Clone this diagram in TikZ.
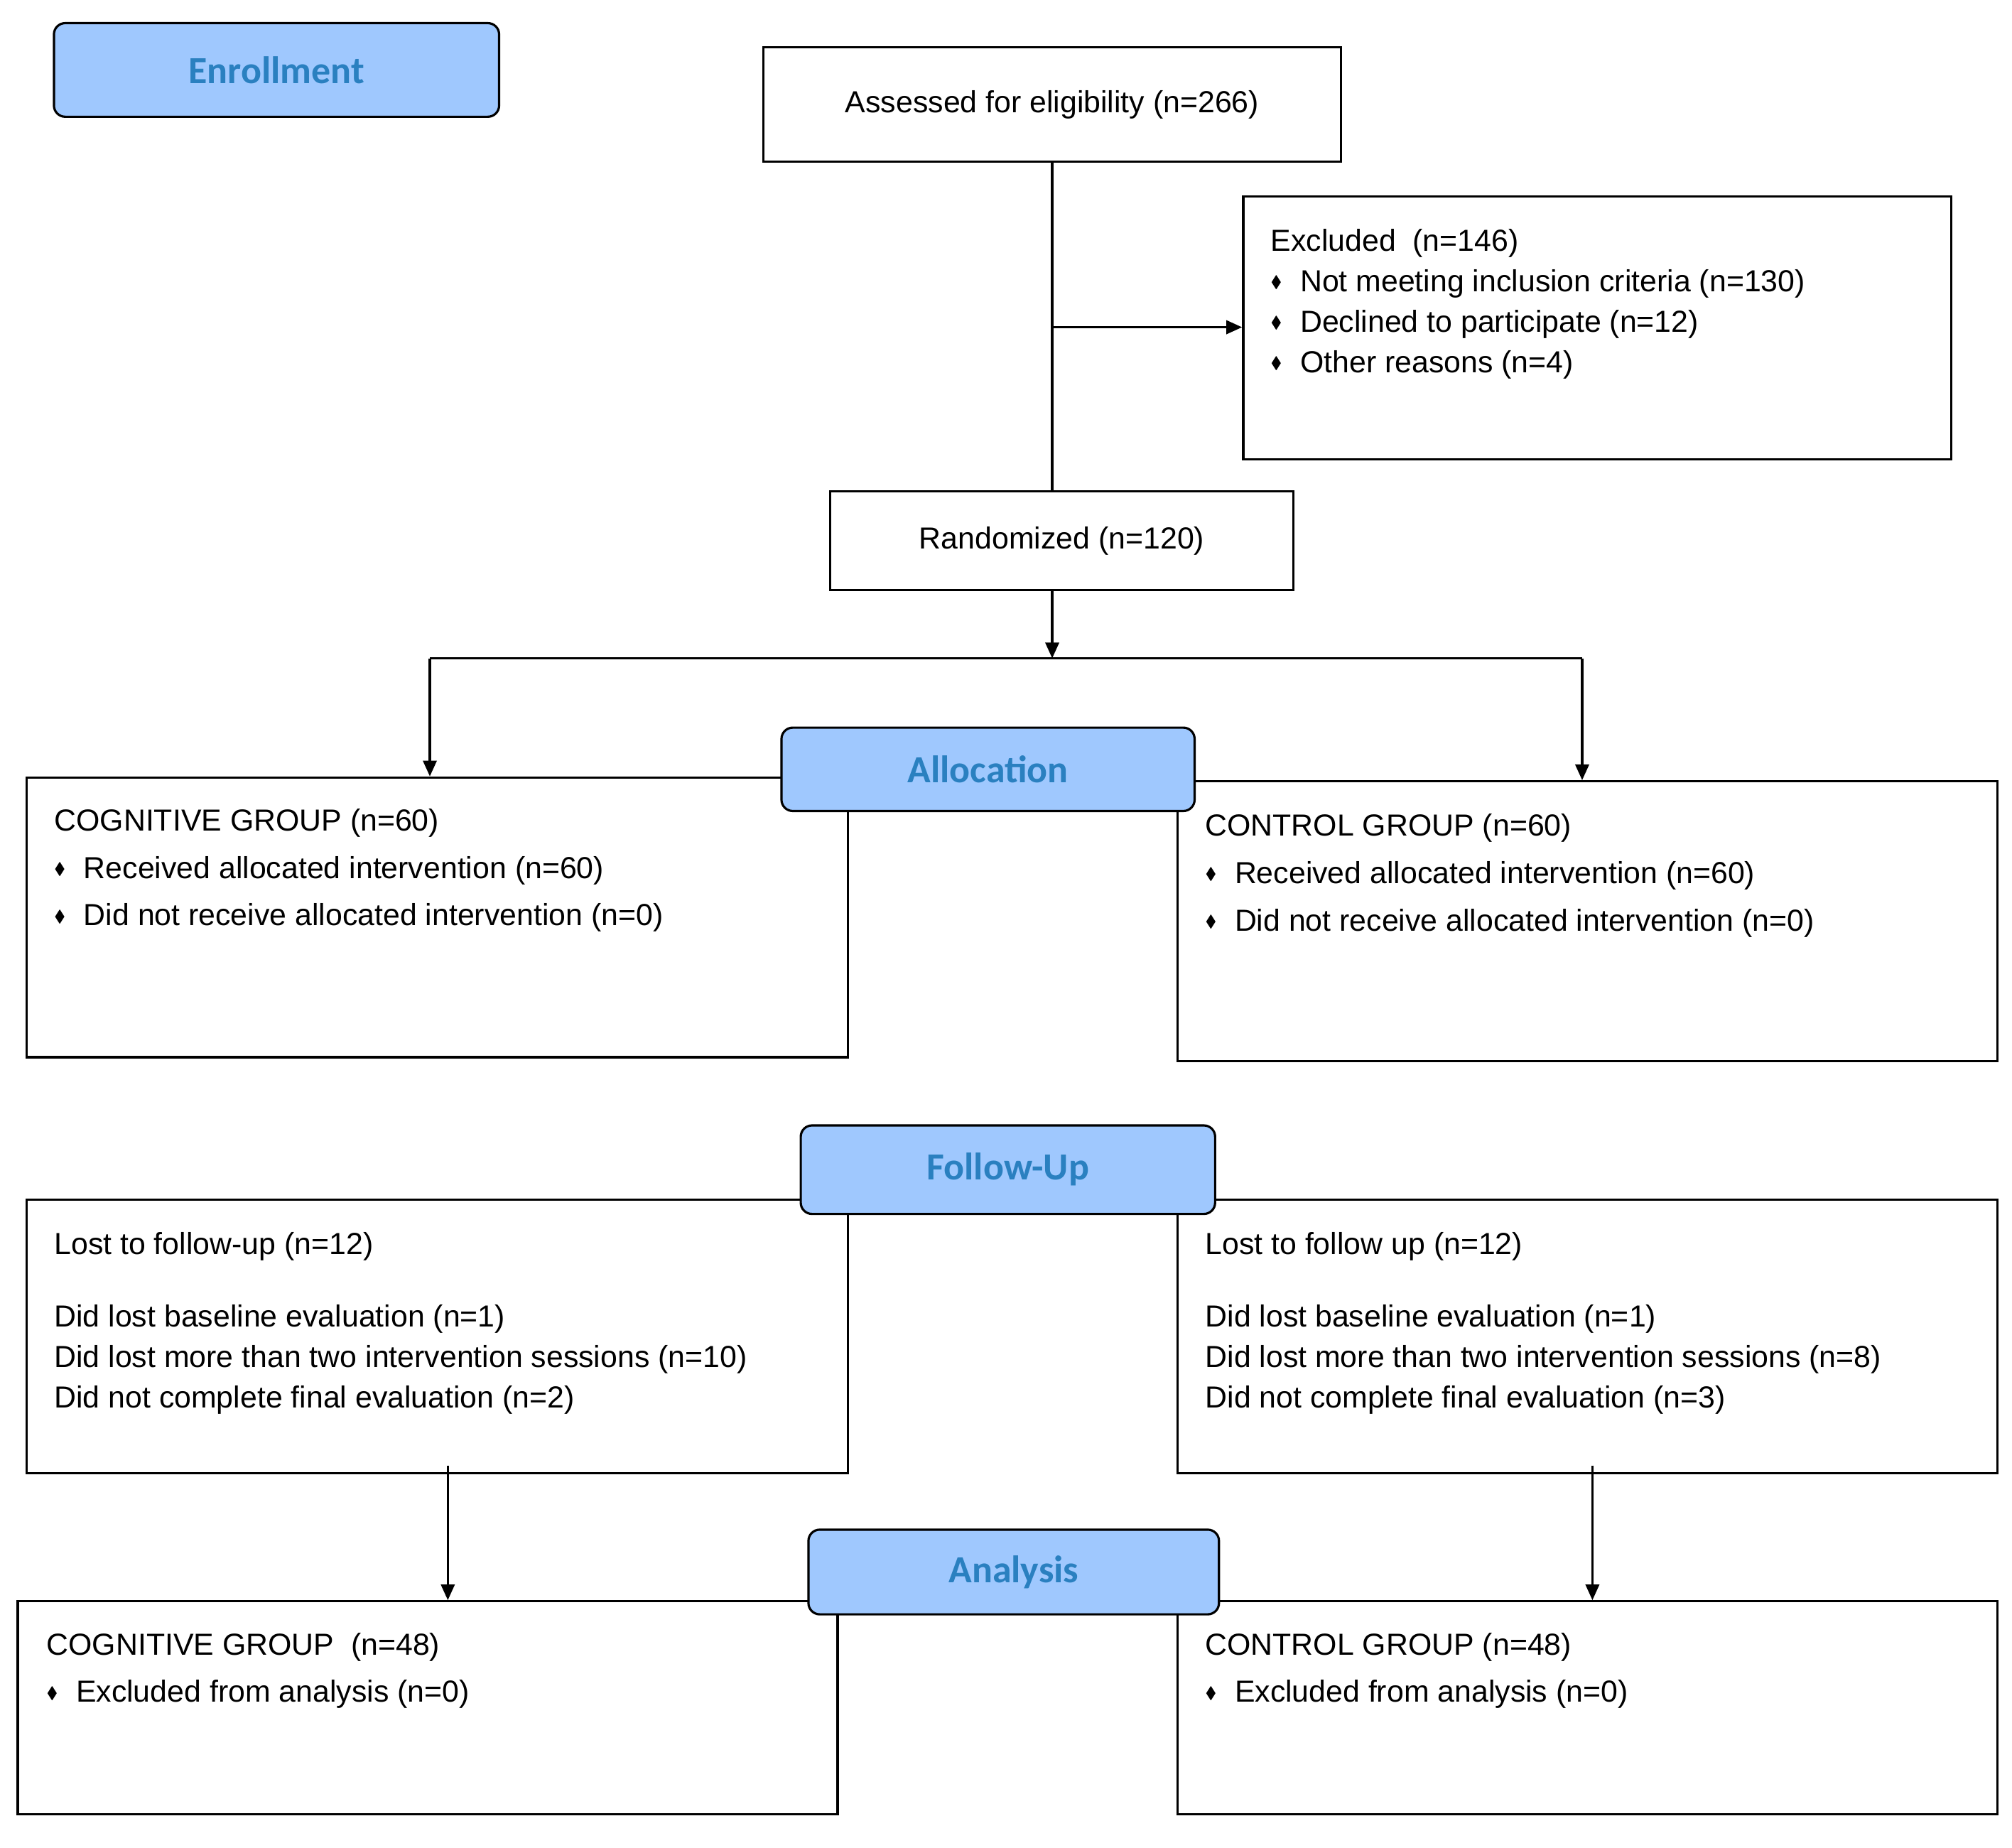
\documentclass[tikz,border=0pt]{standalone}
\usepackage{amssymb}
\usepackage{fontspec}
\setmainfont{Liberation Sans}
\newfontfamily\headfont{Carlito}
\usetikzlibrary{positioning,arrows.meta}
\definecolor{headfill}{HTML}{9FC8FE}
\definecolor{headtext}{HTML}{2A80C0}
\newcommand{\bul}{\raisebox{0.25ex}{\scalebox{0.55}{$\blacklozenge$}}\hspace{0.6em}}

\begin{document}
\begin{tikzpicture}[x=0.02cm,y=-0.02cm,
  box/.style={draw,line width=1pt,fill=white,inner sep=0pt},
  head/.style={draw,line width=1pt,rounded corners=5pt,fill=headfill,inner sep=0pt,
    font=\headfont\fontsize{17}{20}\selectfont\bfseries,text=headtext},
  txt/.style={anchor=north west,align=left,inner sep=0pt,font=\fontsize{13.5}{18}\selectfont},
  conn/.style={line width=1.1pt},
  arr/.style={conn,-{Triangle[length=7pt,width=6pt]}}]
  \useasboundingbox (0,0) rectangle (1568,1440);

  % enrollment
  \node[head,minimum width=6.94cm,minimum height=1.46cm] (enroll) at (215.5,54.5) {Enrollment};
  \node[box,minimum width=9cm,minimum height=1.78cm,font=\fontsize{13.5}{18}\selectfont] (assess) at (820,81.5) {Assessed for eligibility (n=266)};
  \node[box,anchor=north west,minimum width=11.04cm,minimum height=4.1cm] (excl) at (968,152) {};
  \node[txt] (excltxt) at (990,178) {Excluded\ \ (n=146)\\
    \bul Not meeting inclusion criteria (n=130)\\
    \bul Declined to participate (n=12)\\
    \bul Other reasons (n=4)};
  \node[box,minimum width=7.22cm,minimum height=1.54cm,font=\fontsize{13.5}{18}\selectfont] (rand) at (827.5,421.5) {Randomized (n=120)};

  \coordinate (brk) at (820,255);
  \coordinate (split) at (820,513);
  \coordinate (lend) at (335,513);
  \coordinate (rend) at (1233,513);
  \draw[conn] (assess.south) -- (assess.south |- rand.north);
  \draw[arr] (brk) -- (brk -| excl.west);
  \draw[arr] (split |- rand.south) -- (split);
  \draw[conn] (lend) -- (rend);

  % allocation
  \node[box,anchor=north west,minimum width=12.8cm,minimum height=4.36cm] (cogA) at (20,605) {};
  \node[box,anchor=north west,minimum width=12.78cm,minimum height=4.36cm] (ctrlA) at (917,608) {};
  \draw[arr] (lend) -- (lend |- cogA.north);
  \draw[arr] (rend) -- (rend |- ctrlA.north);
  \node[head,minimum width=6.44cm,minimum height=1.3cm] (alloc) at (770,599.5) {Allocation};
  \node[txt] (cogAtxt) at (42,630) {COGNITIVE GROUP (n=60)\\[3pt]
    \bul Received allocated intervention (n=60)\\[3pt]
    \bul Did not receive allocated intervention (n=0)};
  \node[txt] (ctrlAtxt) at (939,634) {CONTROL GROUP (n=60)\\[3pt]
    \bul Received allocated intervention (n=60)\\[3pt]
    \bul Did not receive allocated intervention (n=0)};

  % follow-up
  \node[box,anchor=north west,minimum width=12.8cm,minimum height=4.26cm] (lostL) at (20,934) {};
  \node[box,anchor=north west,minimum width=12.78cm,minimum height=4.26cm] (lostR) at (917,934) {};
  \node[head,minimum width=6.46cm,minimum height=1.38cm] (follow) at (785.5,911.5) {Follow-Up};
  \node[txt] (lostLtxt) at (42,960) {Lost to follow-up (n=12)\\[14pt]
    Did lost baseline evaluation (n=1)\\
    Did lost more than two intervention sessions (n=10)\\
    Did not complete final evaluation (n=2)};
  \node[txt] (lostRtxt) at (939,960) {Lost to follow up (n=12)\\[14pt]
    Did lost baseline evaluation (n=1)\\
    Did lost more than two intervention sessions (n=8)\\
    Did not complete final evaluation (n=3)};

  % analysis
  \node[box,anchor=north west,minimum width=12.78cm,minimum height=3.32cm] (anaL) at (13,1247) {};
  \node[box,anchor=north west,minimum width=12.78cm,minimum height=3.32cm] (anaR) at (917,1247) {};
  \coordinate (dnL) at (349,1142);
  \coordinate (dnR) at (1241,1142);
  \draw[arr] (dnL) -- (dnL |- anaL.north);
  \draw[arr] (dnR) -- (dnR |- anaR.north);
  \node[head,minimum width=6.4cm,minimum height=1.32cm] (analysis) at (790,1225) {Analysis};
  \node[txt] (anaLtxt) at (36,1272) {COGNITIVE GROUP\ \ (n=48)\\[3pt]
    \bul Excluded from analysis (n=0)};
  \node[txt] (anaRtxt) at (939,1272) {CONTROL GROUP (n=48)\\[3pt]
    \bul Excluded from analysis (n=0)};
\end{tikzpicture}
\end{document}
